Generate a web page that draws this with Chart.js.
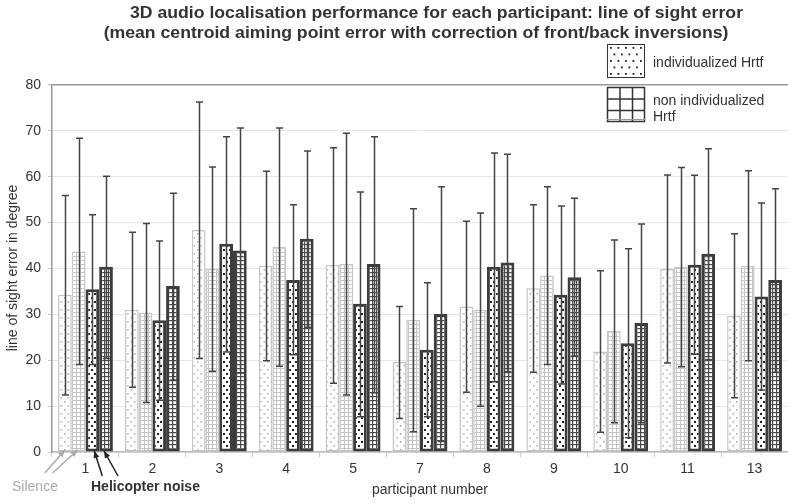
<!DOCTYPE html>
<html>
<head>
<meta charset="utf-8">
<script src="https://cdn.jsdelivr.net/npm/chart.js@4/dist/chart.umd.min.js"></script>
<style>
  html, body { margin: 0; padding: 0; background: #fff; }
  #wrap { width: 788px; height: 504px; position: relative; }
</style>
</head>
<body>
<div id="wrap"><canvas id="c" width="788" height="504"></canvas></div>
<script>
// ---- data ----
const categories = ['1', '2', '3', '4', '5', '7', '8', '9', '10', '11', '13'];

const silenceIndivMean = [34.3, 31.0, 48.4, 40.6, 40.8, 19.6, 31.7, 35.7, 21.9, 39.9, 29.7];
const silenceIndivHigh = [55.9, 47.9, 76.3, 61.2, 66.3, 31.7, 50.3, 53.9, 39.5, 60.4, 47.6];
const silenceIndivLow  = [12.4, 14.1, 20.4, 19.9, 15.0, 7.3, 13.0, 17.4, 4.3, 19.4, 11.8];

const silenceNonIndivMean = [43.7, 30.4, 39.9, 44.7, 41.0, 28.8, 31.0, 38.5, 26.4, 40.4, 40.6];
const silenceNonIndivHigh = [68.4, 49.8, 62.1, 70.6, 69.5, 53.0, 52.1, 57.8, 46.2, 62.0, 61.3];
const silenceNonIndivLow  = [19.1, 10.8, 17.6, 18.7, 12.4, 4.4, 10.0, 19.1, 6.4, 18.6, 19.9];

const heliIndivMean = [35.5, 28.7, 45.4, 37.5, 32.3, 22.3, 40.4, 34.3, 23.7, 40.8, 33.9];
const heliIndivHigh = [51.7, 46.0, 68.7, 53.9, 56.7, 36.9, 65.2, 53.6, 44.3, 60.3, 54.3];
const heliIndivLow  = [19.1, 11.3, 21.8, 21.2, 7.7, 7.7, 15.3, 14.8, 3.1, 21.3, 13.5];

const heliNonIndivMean = [40.4, 36.2, 43.9, 46.5, 41.0, 30.1, 41.3, 38.1, 28.1, 43.2, 37.5];
const heliNonIndivHigh = [60.1, 56.4, 70.6, 65.6, 68.7, 57.8, 64.9, 55.3, 49.7, 66.1, 57.4];
const heliNonIndivLow  = [20.4, 15.7, 17.2, 27.2, 12.9, 2.3, 17.5, 20.9, 6.4, 20.1, 17.4];

const titleLine1 = '3D audio localisation performance for each participant: line of sight error';
const titleLine2 = '(mean centroid aiming point error with correction of front/back inversions)';
const xTitle = 'participant number';
const yTitle = 'line of sight error in degree';
const legendIndiv = 'individualized Hrtf';
const legendNonIndiv = ['non individualized', 'Hrtf'];
const noteSilence = 'Silence';
const noteHeli = 'Helicopter noise';

// ---- patterns ----
function makePattern(w, h, draw) {
  const c = document.createElement('canvas');
  c.width = w; c.height = h;
  const g = c.getContext('2d');
  g.fillStyle = '#fff'; g.fillRect(0, 0, w, h);
  draw(g);
  return document.getElementById('c').getContext('2d').createPattern(c, 'repeat');
}
const patLightDots = makePattern(7, 8, g => {
  g.fillStyle = '#b4b4b4';
  g.fillRect(1, 1, 1.6, 1.6); g.fillRect(4.5, 5, 1.6, 1.6);
});
const patLightGrid = makePattern(4, 4, g => {
  g.fillStyle = '#c4c4c4';
  g.fillRect(0, 0, 4, 1); g.fillRect(0, 0, 1, 4);
});
const patDarkDots = makePattern(6, 8, g => {
  g.fillStyle = '#222';
  g.fillRect(1, 1, 2, 2); g.fillRect(4, 5, 2, 2);
});
const patDarkGrid = makePattern(4, 4, g => {
  g.fillStyle = '#4a4a4a';
  g.fillRect(0, 0, 4, 1.2); g.fillRect(0, 0, 1.2, 4);
});

const errHigh = [silenceIndivHigh, silenceNonIndivHigh, heliIndivHigh, heliNonIndivHigh];
const errLow = [silenceIndivLow, silenceNonIndivLow, heliIndivLow, heliNonIndivLow];

const FONT = '"Liberation Sans", Arial, sans-serif';

function arrow(ctx, x0, y0, x1, y1, color) {
  ctx.save();
  ctx.strokeStyle = color; ctx.fillStyle = color; ctx.lineWidth = 1.5;
  ctx.beginPath(); ctx.moveTo(x0, y0); ctx.lineTo(x1, y1); ctx.stroke();
  const a = Math.atan2(y1 - y0, x1 - x0), L = 7, W = 3;
  ctx.beginPath();
  ctx.moveTo(x1, y1);
  ctx.lineTo(x1 - L * Math.cos(a) + W * Math.sin(a), y1 - L * Math.sin(a) - W * Math.cos(a));
  ctx.lineTo(x1 - L * Math.cos(a) - W * Math.sin(a), y1 - L * Math.sin(a) + W * Math.cos(a));
  ctx.closePath(); ctx.fill();
  ctx.restore();
}

const deco = {
  id: 'deco',
  afterDatasetsDraw(chart) {
    const ctx = chart.ctx, y = chart.scales.y;
    ctx.save();
    ctx.strokeStyle = '#444'; ctx.lineWidth = 1.5;
    for (let d = 0; d < 4; d++) {
      const meta = chart.getDatasetMeta(d);
      meta.data.forEach((bar, i) => {
        const x = Math.round(bar.x) + 0.5;
        const yh = y.getPixelForValue(errHigh[d][i]);
        const yl = y.getPixelForValue(errLow[d][i]);
        ctx.beginPath();
        ctx.moveTo(x, yh); ctx.lineTo(x, yl);
        ctx.moveTo(x - 3.5, yh); ctx.lineTo(x + 3.5, yh);
        ctx.moveTo(x - 3.5, yl); ctx.lineTo(x + 3.5, yl);
        ctx.stroke();
      });
    }
    ctx.restore();
  },
  afterDraw(chart) {
    const ctx = chart.ctx, area = chart.chartArea;
    ctx.save();
    // title (condensed bold)
    ctx.fillStyle = '#333';
    ctx.font = 'bold 17px ' + FONT;
    ctx.textAlign = 'center'; ctx.textBaseline = 'alphabetic';
    const w1 = ctx.measureText(titleLine1).width;
    const sx = 613 / w1;
    ctx.save(); ctx.translate(436.5, 18); ctx.scale(sx, 1); ctx.fillText(titleLine1, 0, 0); ctx.restore();
    ctx.save(); ctx.translate(416, 38); ctx.scale(sx, 1); ctx.fillText(titleLine2, 0, 0); ctx.restore();

    // axis titles
    ctx.font = '14px ' + FONT;
    ctx.fillStyle = '#333';
    ctx.textBaseline = 'middle';
    ctx.fillText(xTitle, 430, 490);
    ctx.save(); ctx.translate(13, 268); ctx.rotate(-Math.PI / 2); ctx.fillText(yTitle, 0, 0); ctx.restore();

    // notes + arrows
    ctx.textAlign = 'left';
    ctx.fillStyle = '#aaa';
    ctx.fillText(noteSilence, 12, 487);
    ctx.font = 'bold 14px ' + FONT;
    ctx.fillStyle = '#333';
    ctx.fillText(noteHeli, 91, 487);
    const base = chart.scales.y.getPixelForValue(0);
    const b0 = chart.getDatasetMeta(0).data[0], b1 = chart.getDatasetMeta(1).data[0];
    const b2 = chart.getDatasetMeta(2).data[0], b3 = chart.getDatasetMeta(3).data[0];
    arrow(ctx, b0.x - 20, base + 21, b0.x, base - 2, '#aaa');
    arrow(ctx, b1.x - 26, base + 21, b1.x - 1, base - 2, '#aaa');
    arrow(ctx, b2.x + 10, base + 24, b2.x + 2, base - 1, '#222');
    arrow(ctx, b3.x + 12, base + 24, b3.x - 2, base - 1, '#222');

    // legend
    ctx.fillStyle = '#fff';
    ctx.fillRect(607, 44, 38, 34);
    ctx.fillStyle = '#222';
    for (let r = 0; r < 5; r++) {
      for (let c = 0; c < 5; c++) {
        const px = 610 + c * 7.5 + (r % 2 ? 3.5 : 0);
        const py = 47 + r * 6.5;
        if (px < 643) ctx.fillRect(px, py, 1.8, 1.8);
      }
    }
    ctx.strokeStyle = '#333'; ctx.lineWidth = 1;
    ctx.strokeRect(607.5, 44.5, 37, 33);
    // grid legend box
    ctx.fillStyle = '#fff';
    ctx.fillRect(607, 87, 38, 35);
    ctx.strokeStyle = '#333'; ctx.lineWidth = 1.5;
    ctx.beginPath();
    [607.5, 620, 632.5, 644.5].forEach(x => { ctx.moveTo(x, 87); ctx.lineTo(x, 122); });
    [87.5, 99, 110.5, 121.5].forEach(yy => { ctx.moveTo(607, yy); ctx.lineTo(645, yy); });
    ctx.stroke();
    ctx.strokeStyle = '#999'; ctx.lineWidth = 1;
    ctx.beginPath(); ctx.moveTo(607, 119.5); ctx.lineTo(645, 119.5); ctx.stroke();

    ctx.font = '14px ' + FONT;
    ctx.fillStyle = '#333';
    ctx.textBaseline = 'middle';
    ctx.fillText(legendIndiv, 653, 63);
    ctx.fillText(legendNonIndiv[0], 653, 101);
    ctx.fillText(legendNonIndiv[1], 653, 117);
    ctx.restore();
  }
};

new Chart(document.getElementById('c'), {
  type: 'bar',
  data: {
    labels: categories,
    datasets: [
      { label: 'Silence - individualized Hrtf', data: silenceIndivMean, backgroundColor: patLightDots, borderColor: '#c6c6c6', borderWidth: 1.5, borderSkipped: false },
      { label: 'Silence - non individualized Hrtf', data: silenceNonIndivMean, backgroundColor: patLightGrid, borderColor: '#c6c6c6', borderWidth: 1.5, borderSkipped: false },
      { label: 'Helicopter noise - individualized Hrtf', data: heliIndivMean, backgroundColor: patDarkDots, borderColor: '#3c3c3c', borderWidth: 3, borderSkipped: false },
      { label: 'Helicopter noise - non individualized Hrtf', data: heliNonIndivMean, backgroundColor: patDarkGrid, borderColor: '#3c3c3c', borderWidth: 3, borderSkipped: false }
    ]
  },
  options: {
    responsive: false,
    animation: false,
    devicePixelRatio: 1,
    layout: { padding: { top: 85, left: 0, right: 0, bottom: 0 } },
    datasets: { bar: { categoryPercentage: 0.82, barPercentage: 1.0 } },
    plugins: { legend: { display: false }, title: { display: false }, tooltip: { enabled: false } },
    scales: {
      x: {
        afterFit: s => { s.height = 52; },
        grid: { display: true, drawOnChartArea: false, drawTicks: true, tickLength: 5, color: '#ccc', offset: true },
        border: { color: '#bbb', width: 1.5 },
        ticks: { color: '#333', font: { family: FONT, size: 14 }, padding: 4 }
      },
      y: {
        min: 0, max: 80,
        afterFit: s => { s.width = 52; },
        ticks: { stepSize: 10, color: '#333', font: { family: FONT, size: 14 }, padding: 7 },
        grid: {
          color: c => (c.tick && c.tick.value === 80) ? '#9a9a9a' : '#e6e6e6',
          lineWidth: c => (c.tick && c.tick.value === 80) ? 1.5 : 1,
          tickColor: '#ccc', tickLength: 4
        },
        border: { color: '#999', width: 1.5 }
      }
    }
  },
  plugins: [deco]
});
</script>
</body>
</html>
